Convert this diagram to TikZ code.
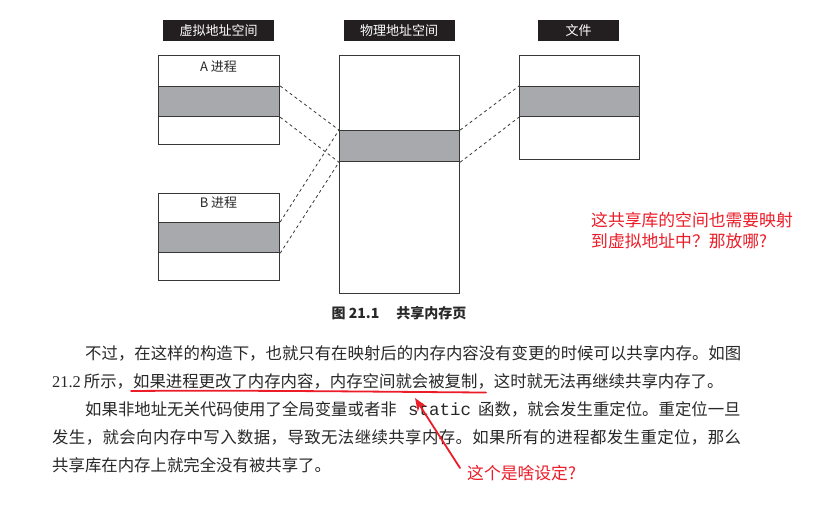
\documentclass[tikz,border=0pt]{standalone}
\usepackage{fontspec}
\setmainfont{Noto Sans CJK SC}
\newfontfamily\cjk{Noto Sans CJK SC}
\newfontfamily\latinserif{Liberation Serif}
\newfontfamily\monofont{Liberation Mono}
\usetikzlibrary{arrows.meta}

\definecolor{ink}{RGB}{35,31,32}
\definecolor{frame}{RGB}{55,55,55}
\definecolor{shade}{RGB}{168,169,172}
\definecolor{bodytext}{RGB}{40,40,40}
\definecolor{notered}{RGB}{236,28,40}

\tikzset{
  x=1pt, y=-1pt,
  hdr/.style={fill=ink, text=white, inner sep=0pt, minimum width=111pt,
              minimum height=21pt, font=\cjk\fontsize{13}{15}\selectfont},
  membox/.style={draw=frame, line width=1.2pt, fill=white, inner sep=0pt,
                 anchor=north west},
  band/.style={draw=frame, line width=1.2pt, fill=shade, inner sep=0pt,
               anchor=north west},
  boxlabel/.style={text=bodytext, inner sep=0pt, font=\cjk\fontsize{13}{15}\selectfont},
  dashlink/.style={draw=frame, line width=0.8pt, dash pattern=on 3pt off 3pt},
  caption/.style={text=bodytext, inner sep=0pt, anchor=west,
                  font=\cjk\bfseries\fontsize{14}{16}\selectfont},
  bodyline/.style={text=bodytext, inner sep=0pt, anchor=base west,
                   font=\cjk\fontsize{16.4}{20}\selectfont},
  note/.style={text=notered, inner sep=0pt, anchor=base west,
               font=\cjk\fontsize{16.8}{20}\selectfont},
  redmark/.style={draw=notered, line width=1.8pt, line cap=round},
}

\begin{document}
\begin{tikzpicture}
\useasboundingbox (0,0) rectangle (818,523);
\fill[white] (0,0) rectangle (818,523);

% column headers
\node[hdr] (hv) at (218.5,30.5) {虚拟地址空间};
\node[hdr] (hp) at (399,30.5) {物理地址空间};
\node[hdr, minimum width=81pt] (hf) at (578.5,30.5) {文件};

% virtual address space of process A
\node[membox, minimum width=121pt, minimum height=89pt] (va) at (158,55) {};
\node[band, minimum width=121pt, minimum height=30pt] (vaband) at (158,86) {};
\node[boxlabel] (valabel) at (218.5,67) {A 进程};

% virtual address space of process B
\node[membox, minimum width=121pt, minimum height=87pt] (vb) at (158,193) {};
\node[band, minimum width=121pt, minimum height=30pt] (vbband) at (158,222) {};
\node[boxlabel] (vblabel) at (218.5,203) {B 进程};

% physical memory
\node[membox, minimum width=120pt, minimum height=238pt] (pm) at (339,55) {};
\node[band, minimum width=120pt, minimum height=31pt] (pmband) at (339,130) {};

% file
\node[membox, minimum width=120pt, minimum height=104pt] (fl) at (519,55) {};
\node[band, minimum width=120pt, minimum height=30pt] (flband) at (519,86) {};

% mappings
\draw[dashlink] (vaband.north east) -- (pmband.north west);
\draw[dashlink] (vaband.south east) -- (pmband.south west);
\draw[dashlink] (vbband.north east) -- (pmband.north west);
\draw[dashlink] (vbband.south east) -- (pmband.south west);
\draw[dashlink] (pmband.north east) -- (flband.north west);
\draw[dashlink] (pmband.south east) -- (flband.south west);

% figure caption
\node[caption] (cap) at (331.5,313) {图 21.1\hspace{17pt}共享内存页};

% body text
\node[bodyline] (l1) at (85,359) {不过，在这样的构造下，也就只有在映射后的内存内容没有变更的时候可以共享内存。如图};
\node[bodyline] (l2a) at (52,387) {{\latinserif 21.2}\hspace{3pt}所示，如果进程更改了内存内容，内存空间就会被复制，这时就无法再继续共享内存了。};
\node[bodyline] (l3a) at (85,415) {如果非地址无关代码使用了全局变量或者非};
\node[bodyline, font=\monofont\fontsize{17.5}{20}\selectfont] (l3b) at (408,415) {static};
\node[bodyline] (l3c) at (478,415) {函数，就会发生重定位。重定位一旦};
\node[bodyline] (l4) at (52,443) {\addfontfeature{LetterSpace=2.5}发生，就会向内存中写入数据，导致无法继续共享内存。如果所有的进程都发生重定位，那么};
\node[bodyline] (l5) at (52,471) {共享库在内存上就完全没有被共享了。};

% red annotations
\node[note] (n1) at (591,226) {这共享库的空间也需要映射};
\node[note] (n2) at (591,247) {到虚拟地址中？那放哪?};
\node[note] (n3) at (467,479) {这个是啥设定?};

\coordinate (ulstart) at (131,391);
\coordinate (ulend) at (486,392.5);
\draw[redmark] (ulstart) .. controls (250,390) and (400,392) .. (ulend);

\coordinate (tail) at (460,468);
\coordinate (tip) at (415,398);
\draw[redmark, -{Stealth[length=13pt,width=10pt]}] (tail) -- (tip);
\end{tikzpicture}
\end{document}
